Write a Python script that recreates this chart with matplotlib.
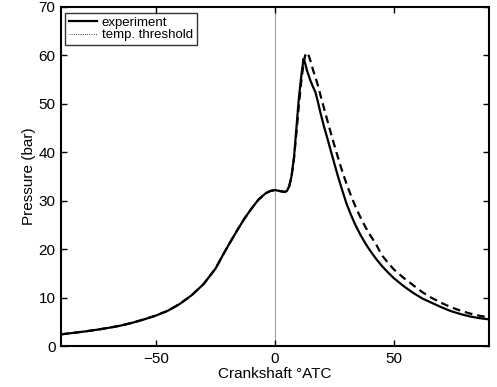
import matplotlib
matplotlib.use("Agg")
import matplotlib.pyplot as plt
from matplotlib.legend_handler import HandlerLine2D
from matplotlib.lines import Line2D

plt.rcParams['font.family'] = ['Liberation Sans', 'DejaVu Sans']

# experiment (solid)
exp_x = [-90, -85, -80, -75, -70, -65, -60, -55, -50, -45, -40, -35, -30, -25, -22, -19, -16, -13, -10, -7, -4, -2,
         0, 2, 4, 5, 6, 7, 8, 9, 10, 11, 12, 12.6, 13.5, 14.9, 16, 17, 18, 19.1, 20.5, 21.9, 23.3, 25, 26.5, 28,
         30, 32, 34, 36, 38, 40, 42.5, 45, 47.5, 50, 54, 58, 62, 66, 70, 74, 78, 82, 86, 90]
exp_y = [2.4, 2.7, 3.0, 3.35, 3.75, 4.2, 4.8, 5.5, 6.3, 7.3, 8.7, 10.5, 12.8, 16.0, 18.7, 21.3, 23.8, 26.2, 28.3, 30.2, 31.5, 32.0,
         32.2, 32.0, 31.8, 32.0, 33.0, 35.2, 39.0, 45.0, 51.0, 55.5, 59.3, 58.5, 56.8, 54.8, 53.5, 52.4, 50.5, 48.2, 45.5, 43.1,
         40.6, 37.6, 35.0, 32.6, 29.5, 27.0, 24.8, 22.9, 21.2, 19.7, 18.0, 16.5, 15.2, 14.0, 12.4, 11.0, 9.8, 8.9, 8.0, 7.2,
         6.6, 6.1, 5.75, 5.5]

# model (dashed)
mod_x = [-90, -85, -80, -75, -70, -65, -60, -55, -50, -45, -40, -35, -30, -25, -22, -19, -16, -13, -10, -7, -4, -2,
         0, 2, 4, 5, 6, 7, 8, 9, 10, 11, 12, 12.7, 13.3, 14, 14.9, 16, 17.7, 19, 20.5, 22.5, 24.7, 26.5, 28, 30, 32,
         34, 36, 38, 40, 42.5, 45, 47.5, 50, 54, 58, 62, 66, 70, 74, 78, 82, 86, 90]
mod_y = [2.4, 2.7, 3.0, 3.35, 3.75, 4.2, 4.8, 5.5, 6.3, 7.3, 8.7, 10.5, 12.8, 16.0, 18.7, 21.3, 23.8, 26.2, 28.3, 30.2, 31.5, 32.0,
         32.2, 32.0, 31.8, 32.0, 33.0, 35.2, 38.8, 44.0, 49.5, 54.5, 58.3, 60.0, 60.6, 60.2, 58.9, 57.0, 54.4, 52.0, 49.3, 45.7,
         41.9, 38.9, 36.5, 33.6, 31.0, 28.6, 26.5, 24.6, 22.9, 21.0, 18.7, 17.2, 15.8, 14.1, 12.6, 11.1, 9.9, 8.9, 8.0, 7.3,
         6.7, 6.25, 5.9]

xticks = [-50, 0, 50]
xticklabels = ['\u221250', '0', '50']
yticks = [0, 10, 20, 30, 40, 50, 60, 70]


class ShortHandle(HandlerLine2D):
    def create_artists(self, legend, orig_handle, xdescent, ydescent, width, height, fontsize, trans):
        arts = super().create_artists(legend, orig_handle, xdescent, ydescent, width, height, fontsize, trans)
        for a in arts:
            if isinstance(a, Line2D):
                xd = list(a.get_xdata())
                if len(xd) == 2:
                    a.set_xdata([xd[0] + 0.5 * (xd[1] - xd[0]), xd[1]])
        return arts


fig = plt.figure(figsize=(4.97, 3.87), dpi=100)
ax = fig.add_axes([61/497, 41/387, 428/497, 339/387])

ax.axvline(0, color='#a0a0a0', lw=0.8, zorder=1)
ax.plot(mod_x, mod_y, color='black', lw=1.6, ls=(0, (3.5, 2.2)), zorder=2)
l1, = ax.plot(exp_x, exp_y, color='black', lw=1.6, label='experiment', zorder=3)
l2, = ax.plot([], [], color='black', lw=0.6, ls=':', label='temp. threshold')

ax.set_xlim(-90, 90)
ax.set_ylim(0, 70)
ax.set_xticks(xticks)
ax.set_yticks(yticks)
ax.set_xticklabels(xticklabels)
ax.tick_params(direction='in', top=True, right=True, length=4, width=1, labelsize=11, pad=4)
for s in ax.spines.values():
    s.set_linewidth(1.5)
ax.set_xlabel('Crankshaft \u00b0ATC', fontsize=11, labelpad=1)
ax.set_ylabel('Pressure (bar)', fontsize=11, labelpad=2)

leg = ax.legend(handles=[l1, l2], loc='upper left', bbox_to_anchor=(4/428, 1 - 5.7/339),
                fontsize=9.5, frameon=True, fancybox=False, edgecolor='black',
                borderaxespad=0, handlelength=2.1, borderpad=0.3, labelspacing=0.0, handletextpad=0.4,
                handler_map={Line2D: ShortHandle()})
leg.get_frame().set_linewidth(1.0)

fig.savefig('out.png', dpi=100)
